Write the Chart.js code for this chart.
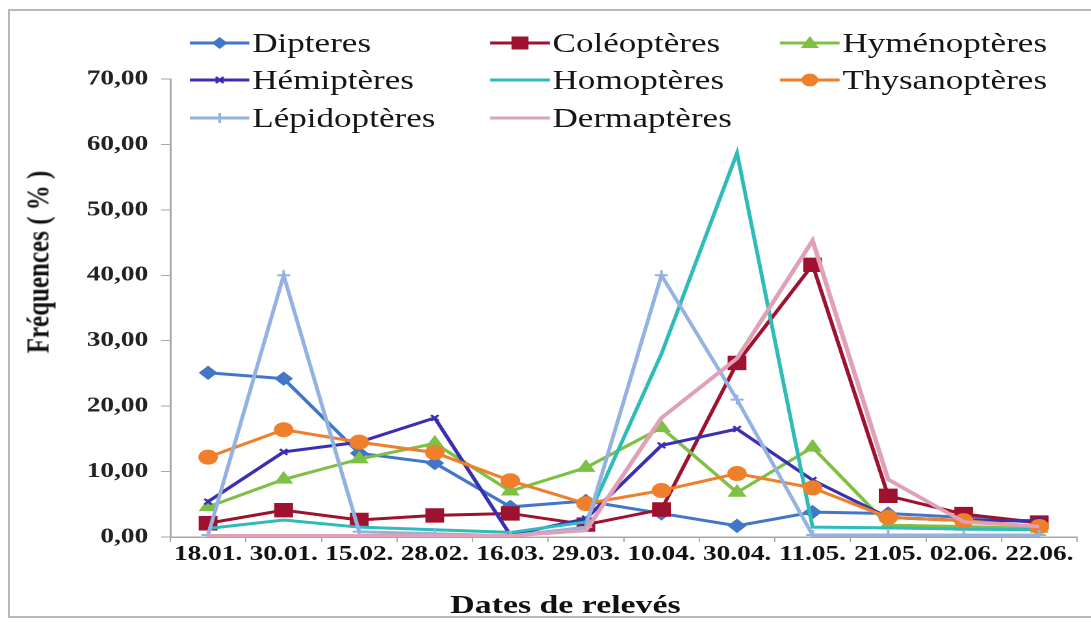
<!DOCTYPE html>
<html><head><meta charset="utf-8">
<script src="https://cdn.jsdelivr.net/npm/chart.js@4"></script>
<style>
html,body{margin:0;padding:0;background:#fff;overflow:hidden;width:1091px;height:624px;position:relative}
#frame{position:absolute;left:8px;top:9px;width:1110px;height:609px;border:2px solid #b8b8b8;box-sizing:border-box}
#wrap{position:absolute;left:0;top:0;width:839px;height:624px;transform:scaleX(1.3);transform-origin:0 0}
#c{position:absolute;left:0;top:0}
.leg{position:absolute;font-family:'Liberation Serif','Times New Roman',serif;font-size:27px;color:#151515;white-space:nowrap;display:flex;align-items:center;height:30px}
.leg svg{margin-right:2px}
#xt{position:absolute;left:435px;top:590px;transform:translateX(-50%);font-family:'Liberation Serif',serif;font-weight:bold;font-size:26px;color:#111;white-space:nowrap}
#yt{position:absolute;left:29px;top:262px;transform:translate(-50%,-50%) rotate(-90deg);font-family:'Liberation Serif',serif;font-weight:bold;font-size:25px;color:#111;white-space:nowrap}
</style></head>
<body>
<div id="frame"></div>
<div id="wrap">
<canvas id="c" width="839" height="624"></canvas>
<div id="xt">Dates de relevés</div>
<div id="yt">Fréquences ( % )</div>
</div>
<script>
const labels = ['18.01.','30.01.','15.02.','28.02.','16.03.','29.03.','10.04.','30.04.','11.05.','21.05.','02.06.','22.06.'];
const yTicks = [0,10,20,30,40,50,60,70];

const dipteres      = [25.1, 24.2, 12.8, 11.3, 4.6, 5.5, 3.6, 1.7, 3.8, 3.6, 3.0, 2.2];
const coleopteres   = [2.1, 4.1, 2.6, 3.3, 3.6, 1.9, 4.2, 26.6, 41.6, 6.3, 3.5, 2.2];
const hymenopteres  = [4.6, 8.8, 11.9, 14.3, 7.0, 10.6, 16.7, 6.8, 13.7, 1.8, 1.6, 1.3];
const hemipteres    = [5.4, 13.0, 14.5, 18.2, 0.3, 2.8, 14.0, 16.5, 8.7, 3.0, 2.5, 2.5];
const homopteres    = [1.3, 2.6, 1.5, 1.1, 0.7, 2.3, 28.0, 58.7, 1.5, 1.4, 1.2, 1.1];
const thysanopteres = [12.2, 16.4, 14.5, 12.9, 8.6, 5.1, 7.1, 9.7, 7.5, 3.0, 2.5, 1.6];
const lepidopteres  = [0.3, 40.0, 0.8, 0.5, 0.2, 1.5, 40.0, 21.0, 0.3, 0.3, 0.3, 0.3];
const dermapteres   = [0.2, 0.2, 0.2, 0.2, 0.2, 1.0, 18.2, 27.3, 45.3, 8.8, 2.3, 1.6];

const series = [
  {name:'Dipteres', data:dipteres, color:'#4276C6', style:'rectRot', r:6.5},
  {name:'Coléoptères', data:coleopteres, color:'#9E1230', style:'rect', r:9.5},
  {name:'Hyménoptères', data:hymenopteres, color:'#7DC043', style:'triangle', r:7.5},
  {name:'Hémiptères', data:hemipteres, color:'#3A2FB3', style:'crossRot', r:4},
  {name:'Homoptères', data:homopteres, color:'#2FBBB8', style:false, r:0},
  {name:'Thysanoptères', data:thysanopteres, color:'#F07F2C', style:'circle', r:7},
  {name:'Lépidoptères', data:lepidopteres, color:'#93B1E1', style:'cross', r:5},
  {name:'Dermaptères', data:dermapteres, color:'#E0A0B5', style:false, r:0}
];

Chart.defaults.font.family = "'Liberation Serif','Times New Roman',serif";
Chart.defaults.color = '#111';

new Chart(document.getElementById('c'), {
  type:'line',
  data:{
    labels: labels,
    datasets: series.map((s,i)=>({
      label:s.name, data:s.data, borderColor:s.color, backgroundColor:s.color,
      borderWidth: s.name==='Dermaptères'?3.5:3, pointStyle:s.style||'circle', pointRadius:s.r,
      pointBorderWidth: (s.style==='cross'||s.style==='crossRot')?2:1,
      pointBorderColor:s.color, pointBackgroundColor:s.color, tension:0, order: 7-i
    }))
  },
  options:{
    responsive:false, devicePixelRatio:2, animation:false,
    layout:{padding:{left:46, top:79, right:0, bottom:47}},
    plugins:{legend:{display:false}, tooltip:{enabled:false}},
    scales:{
      x:{
        offset:true,
        grid:{display:true, drawOnChartArea:false, drawTicks:true, tickLength:5, color:'#a8a8a8', offset:true},
        border:{display:true, color:'#a8a8a8', width:1.5},
        ticks:{autoSkip:false, maxRotation:0, padding:0, font:{size:21, weight:'bold'}, color:'#111'},
        afterFit:(s)=>{s.height=40;}
      },
      y:{
        min:0, max:70,
        afterBuildTicks:(s)=>{s.ticks = yTicks.map(v=>({value:v}));},
        grid:{display:true, drawOnChartArea:false, drawTicks:true, tickLength:7, color:'#a8a8a8'},
        border:{display:true, color:'#a8a8a8', width:1.5},
        ticks:{padding:10, font:{size:21, weight:'bold'}, color:'#222', callback:(v)=>Number(v).toFixed(2).replace('.', ',')},
        afterFit:(s)=>{s.width=85;}
      }
    }
  }
});

// legend
const cols=[146,377,600], rows=[43,80,118];
const wrap=document.getElementById('wrap');
function markerSvg(s){
  const c=s.color;
  let m='';
  if(s.style==='rectRot') m=`<polygon points="23,4 29,10 23,16 17,10" fill="${c}"/>`;
  else if(s.style==='rect') m=`<rect x="16.5" y="3.5" width="13" height="13" fill="${c}"/>`;
  else if(s.style==='triangle') m=`<polygon points="23,3 30,15 16,15" fill="${c}"/>`;
  else if(s.style==='circle') m=`<circle cx="23" cy="10" r="6.5" fill="${c}"/>`;
  else if(s.style==='cross') m=`<path d="M23 5 V15 M18 10 H28" stroke="${c}" stroke-width="2"/>`;
  else if(s.style==='crossRot') m=`<path d="M20 7 L26 13 M26 7 L20 13" stroke="${c}" stroke-width="2"/>`;
  return `<svg width="46" height="20" viewBox="0 0 46 20"><line x1="0" y1="10" x2="46" y2="10" stroke="${c}" stroke-width="3"/>${m}</svg>`;
}
series.forEach((s,i)=>{
  const d=document.createElement('div');
  d.className='leg';
  d.style.left=cols[i%3]+'px';
  d.style.top=(rows[Math.floor(i/3)]-15)+'px';
  d.innerHTML=markerSvg(s)+'<span>'+s.name+'</span>';
  wrap.appendChild(d);
});
</script>
</body></html>
